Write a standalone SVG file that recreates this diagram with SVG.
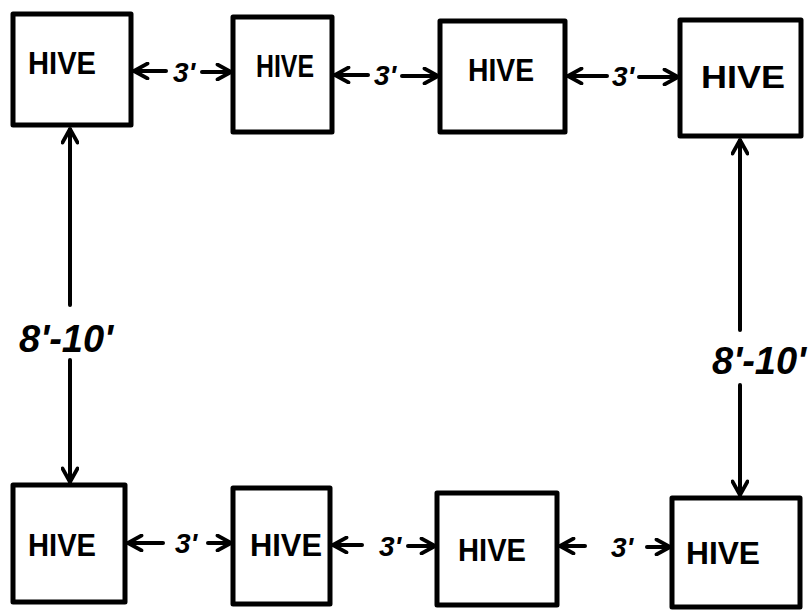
<svg xmlns="http://www.w3.org/2000/svg" width="809" height="614" viewBox="0 0 809 614">
<style>
.box{fill:#fff;stroke:#000;stroke-width:5;stroke-linejoin:round}
.hive{font-family:"Liberation Sans",Arial,sans-serif;font-weight:bold;font-size:32px;fill:#000}
.lbl{font-family:"Liberation Sans",Arial,sans-serif;font-weight:bold;font-style:italic;font-size:28px;fill:#000}
.big{font-family:"Liberation Sans",Arial,sans-serif;font-weight:bold;font-style:italic;font-size:38px;fill:#000}
.c{stroke:#000;stroke-width:4;fill:none;stroke-linecap:round;marker-end:url(#ah)}
</style>
<defs>
<marker id="ah" viewBox="0 0 12 12" refX="11" refY="6" markerWidth="4.5" markerHeight="4.5" orient="auto" markerUnits="strokeWidth">
<path d="M2,1 L11,6 L2,11" fill="none" stroke="#000" stroke-width="2.5" stroke-linecap="round" stroke-linejoin="round"/>
</marker>
</defs>
<g id="connectors">
<line class="c" x1="166" y1="71" x2="134" y2="71"/>
<line class="c" x1="202" y1="72" x2="231" y2="72"/>
<line class="c" x1="368" y1="75" x2="335" y2="75"/>
<line class="c" x1="402" y1="76" x2="438" y2="76"/>
<line class="c" x1="607" y1="76" x2="568" y2="76"/>
<line class="c" x1="639" y1="77" x2="678" y2="77"/>
<line class="c" x1="163" y1="543" x2="128" y2="543"/>
<line class="c" x1="208" y1="543" x2="231" y2="543"/>
<line class="c" x1="362" y1="545" x2="333" y2="545"/>
<line class="c" x1="408" y1="546" x2="435" y2="546"/>
<line class="c" x1="585" y1="546" x2="560" y2="546"/>
<line class="c" x1="647" y1="547" x2="670" y2="547"/>
<line class="c" x1="70" y1="305" x2="70" y2="129"/>
<line class="c" x1="70" y1="360" x2="70" y2="482"/>
<line class="c" x1="740" y1="330" x2="740" y2="140"/>
<line class="c" x1="740" y1="385" x2="740" y2="495"/>
</g>
<g id="hive1"><rect class="box" x="13" y="14" width="118" height="111"/><text class="hive" x="62" y="74" text-anchor="middle" textLength="68" lengthAdjust="spacingAndGlyphs">HIVE</text></g>
<g id="hive2"><rect class="box" x="233" y="17" width="99" height="115"/><text class="hive" x="285" y="77" text-anchor="middle" textLength="58" lengthAdjust="spacingAndGlyphs">HIVE</text></g>
<g id="hive3"><rect class="box" x="440" y="21" width="125" height="111"/><text class="hive" x="501" y="81" text-anchor="middle" textLength="66" lengthAdjust="spacingAndGlyphs">HIVE</text></g>
<g id="hive4"><rect class="box" x="680" y="20" width="121" height="116"/><text class="hive" x="743" y="88" text-anchor="middle" textLength="84" lengthAdjust="spacingAndGlyphs">HIVE</text></g>
<g id="hive5"><rect class="box" x="13" y="485" width="112" height="117"/><text class="hive" x="62" y="556" text-anchor="middle" textLength="68" lengthAdjust="spacingAndGlyphs">HIVE</text></g>
<g id="hive6"><rect class="box" x="233" y="488" width="97" height="116"/><text class="hive" x="286" y="556" text-anchor="middle" textLength="72" lengthAdjust="spacingAndGlyphs">HIVE</text></g>
<g id="hive7"><rect class="box" x="437" y="493" width="120" height="112"/><text class="hive" x="492" y="561" text-anchor="middle" textLength="68" lengthAdjust="spacingAndGlyphs">HIVE</text></g>
<g id="hive8"><rect class="box" x="672" y="498" width="128" height="109"/><text class="hive" x="723" y="564" text-anchor="middle" textLength="74" lengthAdjust="spacingAndGlyphs">HIVE</text></g>
<g id="labels">
<text class="lbl" x="184" y="82" text-anchor="middle">3'</text>
<text class="lbl" x="385" y="85" text-anchor="middle">3'</text>
<text class="lbl" x="623" y="86" text-anchor="middle">3'</text>
<text class="lbl" x="186" y="553" text-anchor="middle">3'</text>
<text class="lbl" x="390" y="556" text-anchor="middle">3'</text>
<text class="lbl" x="622" y="557" text-anchor="middle">3'</text>
<text class="big" x="19" y="352">8'-10'</text>
<text class="big" x="712" y="374">8'-10'</text>
</g>
</svg>
